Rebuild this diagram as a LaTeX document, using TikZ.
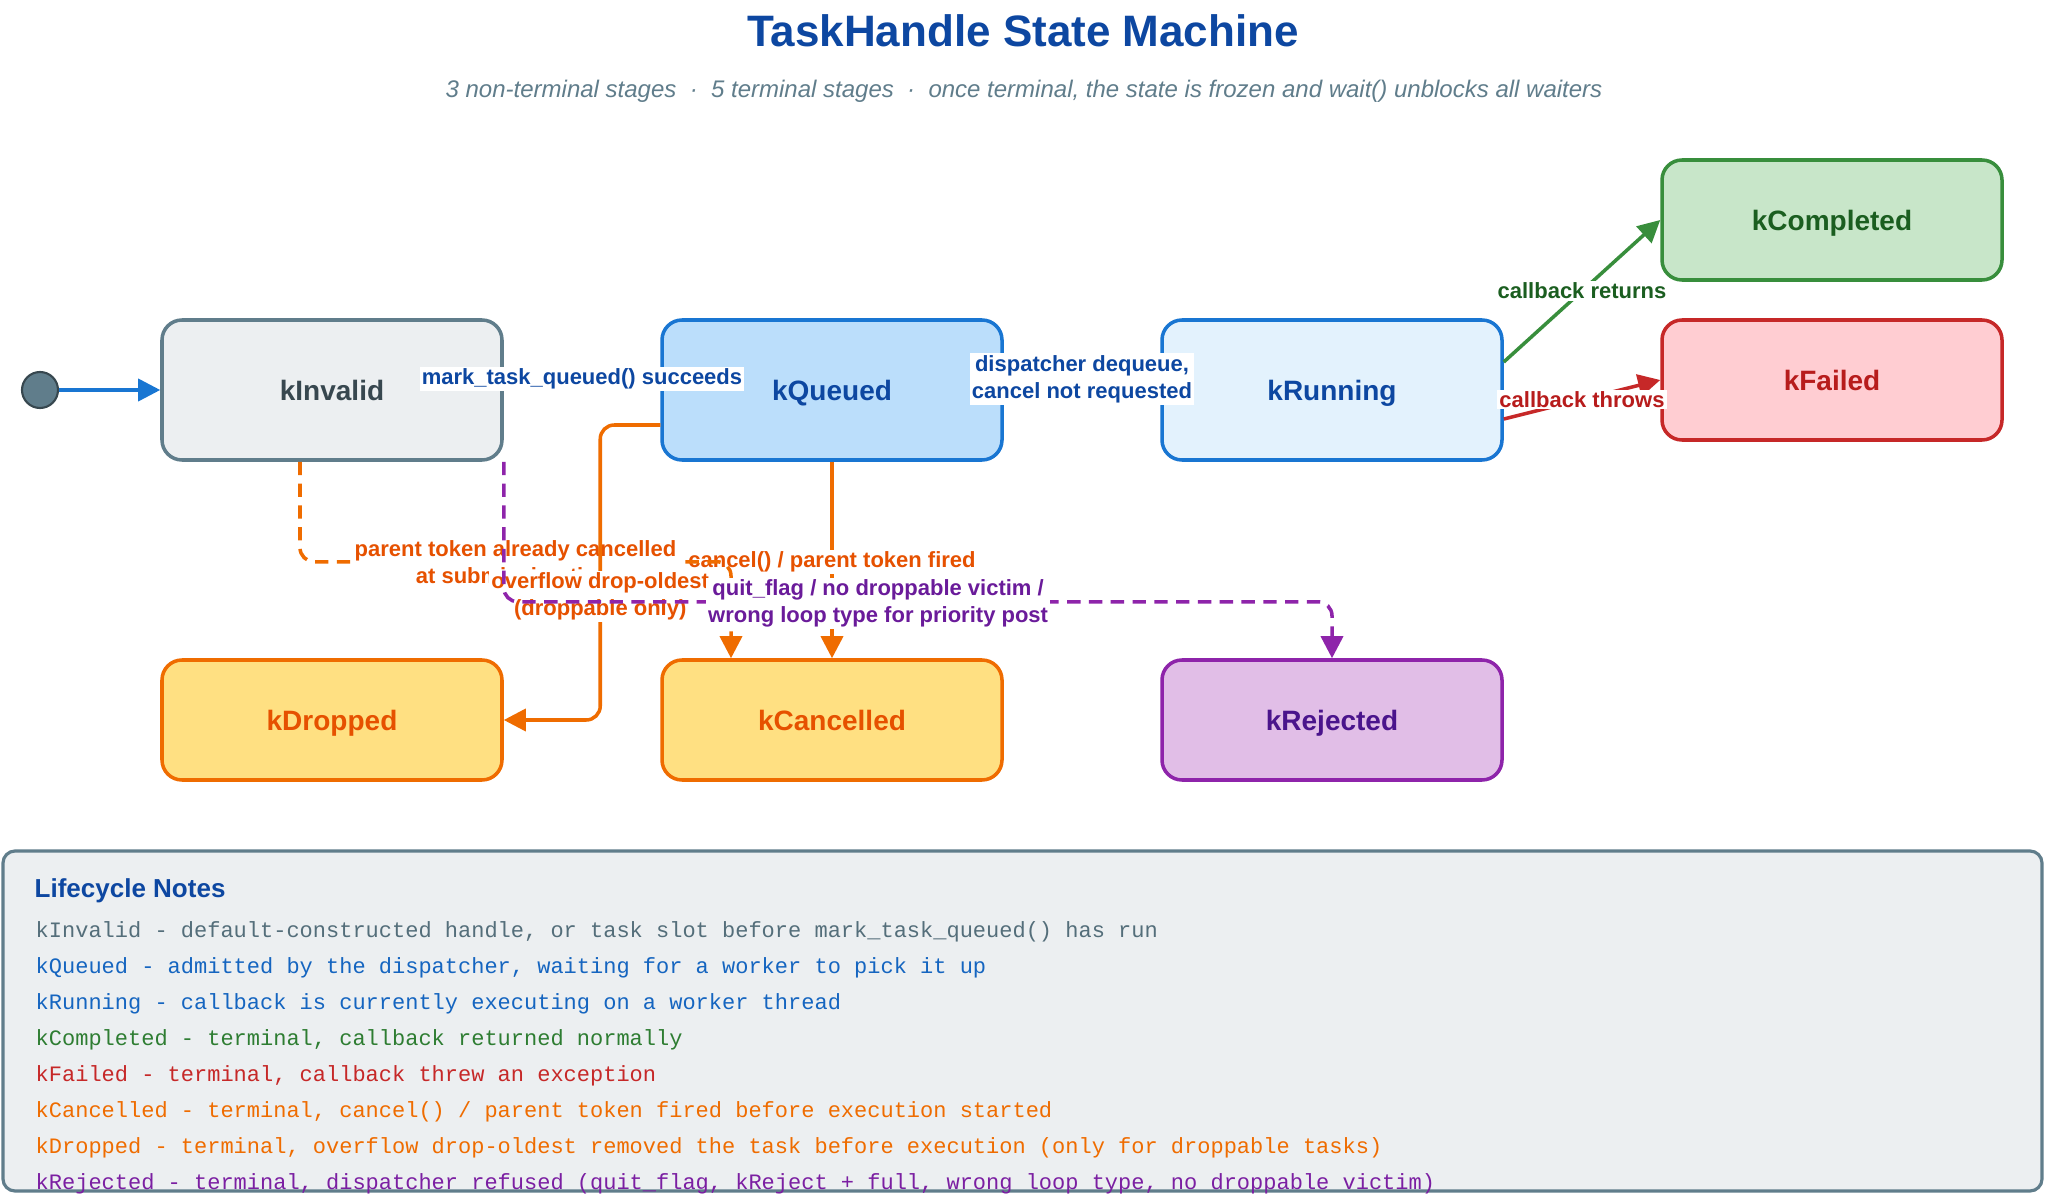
\documentclass[tikz,border=0pt]{standalone}
\usepackage{fontspec}
\setmainfont{Liberation Sans}
\setmonofont{Liberation Mono}
\usetikzlibrary{arrows.meta,calc,positioning}
\definecolor{THTitle}{HTML}{0D47A1}
\definecolor{THGray}{HTML}{607D8B}
\definecolor{THGrayFill}{HTML}{ECEFF1}
\definecolor{THGrayText}{HTML}{37474F}
\definecolor{THBlue}{HTML}{1976D2}
\definecolor{THBlueFill}{HTML}{BBDEFB}
\definecolor{THBlueLight}{HTML}{E3F2FD}
\definecolor{THBlueText}{HTML}{0D47A1}
\definecolor{THGreen}{HTML}{388E3C}
\definecolor{THGreenFill}{HTML}{C8E6C9}
\definecolor{THGreenText}{HTML}{1B5E20}
\definecolor{THRed}{HTML}{C62828}
\definecolor{THRedFill}{HTML}{FFCDD2}
\definecolor{THRedText}{HTML}{B71C1C}
\definecolor{THOrange}{HTML}{EF6C00}
\definecolor{THOrangeFill}{HTML}{FFE082}
\definecolor{THOrangeText}{HTML}{E65100}
\definecolor{THPurple}{HTML}{8E24AA}
\definecolor{THPurpleFill}{HTML}{E1BEE7}
\definecolor{THPurpleText}{HTML}{4A148C}
\definecolor{THPurpleLabel}{HTML}{6A1B9A}
\definecolor{THNoteGray}{HTML}{546E7A}
\definecolor{THNoteBlue}{HTML}{1565C0}
\definecolor{THNoteGreen}{HTML}{2E7D32}
\definecolor{THNoteRed}{HTML}{C62828}
\definecolor{THNoteOrange}{HTML}{EF6C00}
\definecolor{THNotePurple}{HTML}{7B1FA2}

\begin{document}
\begin{tikzpicture}[
  x=1cm,y=-1cm,
  flow/.style={-{Triangle[length=6.3pt,width=6.3pt]},line width=1.0pt,
    rounded corners=0.14cm},
  weak/.style={flow,dash pattern=on 3.8pt off 2.4pt},
  state/.style={draw,rounded corners=0.20cm,line width=1.0pt,
    minimum width=3.40cm,text height=0.73em,text depth=0.14em,
    font=\bfseries\fontsize{7.97}{9.6}\selectfont},
  tall/.style={state,minimum height=1.40cm},
  flat/.style={state,minimum height=1.20cm},
  lbl/.style={fill=white,sharp corners,inner xsep=0.6pt,inner ysep=0.5pt,
    align=center,font=\bfseries\fontsize{6.26}{7.68}\selectfont},
  group/.style={draw=THGray,fill=THGrayFill,line width=0.9pt,
    rounded corners=0.12cm},
  note/.style={anchor=base west,inner sep=0pt,
    font=\ttfamily\fontsize{6.26}{7.5}\selectfont}
]
\path[use as bounding box,fill=white] (0,0) rectangle (20.46,12.04);

% heading
\node[anchor=base,inner sep=0pt,text=THTitle,
  font=\bfseries\fontsize{12.52}{15}\selectfont] (title) at (10.23,0.47)
  {TaskHandle State Machine};
\node[anchor=base,inner sep=0pt,text=THGray,
  font=\itshape\fontsize{6.83}{8.2}\selectfont] (subtitle) at (10.24,0.98)
  {3 non-terminal stages~~·~~5 terminal stages~~·~~once terminal, the state is frozen and wait() unblocks all waiters};

% states
\node[circle,draw=THGrayText,fill=THGray,line width=0.6pt,
  minimum size=0.36cm,inner sep=0pt] (start) at (0.40,3.90) {};
\node[tall,draw=THGray,fill=THGrayFill,text=THGrayText] (inv) at (3.32,3.90) {kInvalid};
\node[tall,draw=THBlue,fill=THBlueFill,text=THBlueText] (que) at (8.32,3.90) {kQueued};
\node[tall,draw=THBlue,fill=THBlueLight,text=THBlueText] (run) at (13.32,3.90) {kRunning};
\node[flat,draw=THGreen,fill=THGreenFill,text=THGreenText] (comp) at (18.32,2.20) {kCompleted};
\node[flat,draw=THRed,fill=THRedFill,text=THRedText] (fail) at (18.32,3.80) {kFailed};
\node[flat,draw=THOrange,fill=THOrangeFill,text=THOrangeText] (drop) at (3.32,7.20) {kDropped};
\node[flat,draw=THOrange,fill=THOrangeFill,text=THOrangeText] (can) at (8.32,7.20) {kCancelled};
\node[flat,draw=THPurple,fill=THPurpleFill,text=THPurpleText] (rej) at (13.32,7.20) {kRejected};

% transitions
\draw[flow,draw=THBlue] (start) -- (inv);
\draw[flow,draw=THBlue] ($(inv.east)+(0,-0.11)$) -- ($(que.west)+(0,-0.11)$)
  node[midway,lbl,text=THBlueText] (lq) {mark\_task\_queued() succeeds};
\draw[flow,draw=THBlue] ($(que.east)+(0,-0.11)$) -- ($(run.west)+(0,-0.11)$)
  node[midway,lbl,text=THBlueText] (lr) {dispatcher dequeue,\\cancel not requested};
\draw[flow,draw=THGreen] ($(run.east)+(0,-0.28)$) -- (comp.west)
  node[midway,lbl,text=THGreenText] (lc) {callback returns};
\draw[flow,draw=THRed] ($(run.east)+(0,0.29)$) -- (fail.west)
  node[midway,lbl,text=THRedText] (lf) {callback throws};
\draw[flow,draw=THOrange] (que.south) -- (can.north)
  node[midway,lbl,text=THOrangeText,yshift=-0.02cm] (lk) {cancel() / parent token fired};
\draw[weak,draw=THOrange] ($(inv.south)+(-0.32,0)$) -- ++(0,1.00)
  -| node[pos=0.25,lbl,text=THOrangeText] (lp)
  {parent token already cancelled\\at submission time} ($(can.north)+(-1.01,0)$);
\draw[flow,draw=THOrange] ($(que.west)+(0,0.35)$) -- ++(-0.60,0)
  |- node[pos=0.29,lbl,text=THOrangeText] (ld)
  {overflow drop-oldest\\(droppable only)} (drop.east);
\draw[weak,draw=THPurple] (inv.south east) -- ++(0,1.40)
  -| node[pos=0.226,lbl,text=THPurpleLabel,yshift=-0.02cm] (lj)
  {quit\_flag / no droppable victim /\\wrong loop type for priority post} (rej.north);

% notes
\draw[group] (0.03,8.51) rectangle (20.42,11.91);
\node[anchor=base west,inner sep=0pt,text=THTitle,
  font=\bfseries\fontsize{7.40}{8.9}\selectfont] (notes) at (0.34,8.97) {Lifecycle Notes};
\node[note,text=THNoteGray] (n1) at (0.35,9.37)
  {kInvalid - default-constructed handle, or task slot before mark\_task\_queued() has run};
\node[note,text=THNoteBlue] (n2) at (0.35,9.73)
  {kQueued - admitted by the dispatcher, waiting for a worker to pick it up};
\node[note,text=THNoteBlue] (n3) at (0.35,10.09)
  {kRunning - callback is currently executing on a worker thread};
\node[note,text=THNoteGreen] (n4) at (0.35,10.45)
  {kCompleted - terminal, callback returned normally};
\node[note,text=THNoteRed] (n5) at (0.35,10.81)
  {kFailed - terminal, callback threw an exception};
\node[note,text=THNoteOrange] (n6) at (0.35,11.17)
  {kCancelled - terminal, cancel() / parent token fired before execution started};
\node[note,text=THNoteOrange] (n7) at (0.35,11.53)
  {kDropped - terminal, overflow drop-oldest removed the task before execution (only for droppable tasks)};
\node[note,text=THNotePurple] (n8) at (0.35,11.89)
  {kRejected - terminal, dispatcher refused (quit\_flag, kReject + full, wrong loop type, no droppable victim)};

\end{tikzpicture}
\end{document}
